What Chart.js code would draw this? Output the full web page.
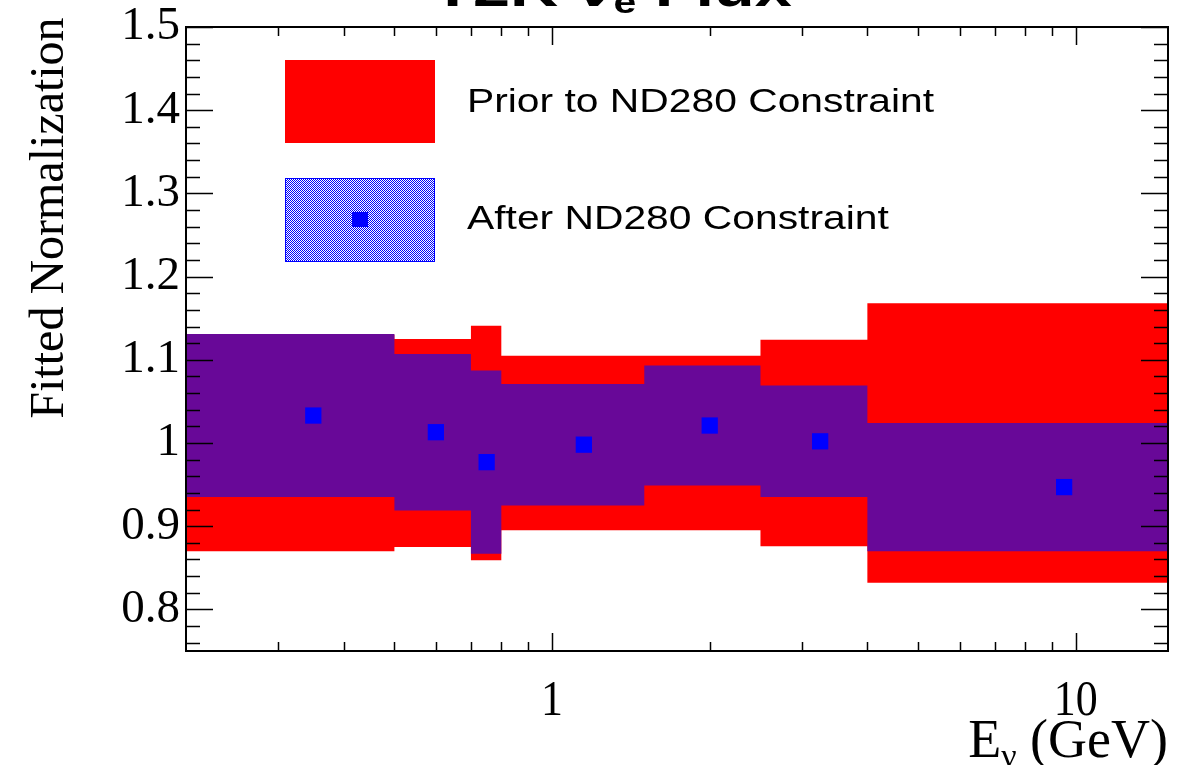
<!DOCTYPE html>
<html>
<head>
<meta charset="utf-8">
<script src="https://cdn.jsdelivr.net/npm/chart.js@4.4.0/dist/chart.umd.min.js"></script>
<style>
  html, body { margin: 0; padding: 0; background: #fff; }
  #wrap { width: 1198px; height: 765px; }
</style>
</head>
<body>
<div id="wrap"><canvas id="myChart" width="1198" height="765"></canvas></div>
<script>
// bins in E_nu (GeV)
const binEdges   = [0.2, 0.5, 0.7, 0.8, 1.5, 2.5, 4.0, 15]
const binCenters = [0.35, 0.6, 0.75, 1.15, 2.0, 3.25, 9.5]
// prior: nominal 1 +- error
const priorErr   = [0.130, 0.125, 0.141, 0.105, 0.105, 0.124, 0.168]
// after ND280 fit
const fitted     = [1.033, 1.013, 0.977, 0.998, 1.021, 1.002, 0.947]
const fittedErr  = [0.098, 0.094, 0.110, 0.073, 0.072, 0.067, 0.077]
// axis labels
const yTicks = [0.8, 0.9, 1.0, 1.1, 1.2, 1.3, 1.4, 1.5]
const xTicks = [1, 10]

// stepped boundary: point i holds its value until the next edge
const stepLine = vals => binEdges.map((e, i) => ({ x: e, y: vals[Math.min(i, vals.length - 1)] }))

const priorUp = stepLine(priorErr.map(e => 1 + e))
const priorLo = stepLine(priorErr.map(e => 1 - e))
const fitUp = stepLine(fitted.map((v, i) => v + fittedErr[i]))
const fitLo = stepLine(fitted.map((v, i) => v - fittedErr[i]))
const points = binCenters.map((x, i) => ({ x: x, y: fitted[i] }))

const ctx = document.querySelector('#myChart').getContext('2d')

// blue checker over white for the legend box (ROOT fill style look)
const pc = document.createElement('canvas')
pc.width = 2; pc.height = 2
const p = pc.getContext('2d')
p.fillStyle = '#ffffff'
p.fillRect(0, 0, 2, 2)
p.fillStyle = '#0000ff'
p.fillRect(0, 0, 1, 1)
p.fillRect(1, 1, 1, 1)
const hatchOnWhite = ctx.createPattern(pc, 'repeat')
// blue checker over the red band reads as purple
const bandPurple = 'rgb(104, 8, 152)'

const band = (data, fill, color, order) => ({
  data: data,
  stepped: 'before',
  fill: fill,
  backgroundColor: color,
  borderColor: 'transparent',
  borderWidth: 0,
  pointRadius: 0,
  order: order
})

function txt(c, s, x, y, font, align, base, sx) {
  c.save()
  c.translate(x, y)
  c.scale(sx || 1, 1)
  c.font = font
  c.textAlign = align
  c.textBaseline = base
  c.fillText(s, 0, 0)
  c.restore()
}

const rootFrame = {
  id: 'rootFrame',
  afterDraw(chart) {
    const c = chart.ctx
    const a = chart.chartArea
    const xs = chart.scales.x
    const ys = chart.scales.y
    c.save()
    c.strokeStyle = '#000'
    c.fillStyle = '#000'
    c.lineWidth = 2
    c.strokeRect(a.left, a.top, a.right - a.left, a.bottom - a.top)

    // y ticks (both sides)
    c.lineWidth = 1.5
    c.beginPath()
    for (let k = 38; k <= 75; k++) {
      const v = k * 0.02
      const py = Math.round(ys.getPixelForValue(v)) + 0.5
      const len = k % 5 === 0 ? 27 : 14
      c.moveTo(a.left, py); c.lineTo(a.left + len, py)
      c.moveTo(a.right, py); c.lineTo(a.right - len, py)
    }
    // x ticks (log)
    for (let d = 0.1; d <= 10; d *= 10) {
      for (let m = 1; m <= 9; m++) {
        const v = d * m
        if (v <= 0.2 || v >= 15) continue
        const px = Math.round(xs.getPixelForValue(v)) + 0.5
        const len = m === 1 ? 18 : 9
        c.moveTo(px, a.bottom); c.lineTo(px, a.bottom - len)
        c.moveTo(px, a.top); c.lineTo(px, a.top + len)
      }
    }
    c.stroke()

    // tick labels
    const serif = '"Liberation Serif", "Times New Roman", serif'
    yTicks.forEach(v => {
      txt(c, String(v), 180, ys.getPixelForValue(v), '47px ' + serif, 'right', 'middle')
    })
    xTicks.forEach(v => {
      txt(c, String(v), xs.getPixelForValue(v), 715, '51px ' + serif, 'center', 'alphabetic', 0.86)
    })

    // axis titles
    c.save()
    c.translate(63, 218)
    c.rotate(-Math.PI / 2)
    c.font = '48px ' + serif
    c.textAlign = 'center'
    c.textBaseline = 'alphabetic'
    c.fillText('Fitted Normalization', 0, 0)
    c.restore()

    c.font = '54px ' + serif
    const wTail = c.measureText(' (GeV)').width
    const wE = c.measureText('E').width
    c.font = '34px ' + serif
    const wNu = c.measureText('ν').width
    const x0 = a.right - wTail - wNu - wE
    txt(c, 'E', x0, 757, '54px ' + serif, 'left', 'alphabetic')
    txt(c, 'ν', x0 + wE, 767, '34px ' + serif, 'left', 'alphabetic')
    txt(c, ' (GeV)', x0 + wE + wNu, 757, '54px ' + serif, 'left', 'alphabetic')

    // title, clipped by the top of the canvas
    const sans = '"Liberation Sans", Arial, sans-serif'
    c.font = 'bold 52px ' + sans
    const w1 = c.measureText('T2K ν').width
    const w3 = c.measureText(' Flux').width
    c.font = 'bold 32px ' + sans
    const w2 = c.measureText('e').width
    const sx = 1.28
    let tx = 612 - (w1 + w2 + w3) * sx / 2
    txt(c, 'T2K ν', tx, 6, 'bold 52px ' + sans, 'left', 'alphabetic', sx)
    tx += w1 * sx
    txt(c, 'e', tx, 13, 'bold 32px ' + sans, 'left', 'alphabetic', sx)
    tx += w2 * sx
    txt(c, ' Flux', tx, 6, 'bold 52px ' + sans, 'left', 'alphabetic', sx)

    // legend
    c.fillStyle = '#ff0000'
    c.fillRect(285, 60, 150, 83)
    c.fillStyle = hatchOnWhite
    c.fillRect(285, 178, 150, 84)
    c.strokeStyle = '#0000ff'
    c.lineWidth = 1
    c.strokeRect(285.5, 178.5, 149, 83)
    c.fillStyle = '#0000ff'
    c.fillRect(352, 212, 16, 15)
    c.fillStyle = '#000'
    txt(c, 'Prior to ND280 Constraint', 467, 103, '34px ' + sans, 'left', 'middle', 1.2)
    txt(c, 'After ND280 Constraint', 467, 220, '34px ' + sans, 'left', 'middle', 1.2)
    c.restore()
  }
}

const myChart = new Chart(ctx, {
  type: 'line',
  data: {
    datasets: [
      {
        data: points,
        showLine: false,
        pointStyle: 'rect',
        pointRadius: 11.5,
        pointBorderWidth: 0,
        pointBackgroundColor: '#0000ff',
        borderColor: 'transparent',
        order: 0
      },
      band(fitUp, false, bandPurple, 1),
      band(fitLo, '-1', bandPurple, 1),
      band(priorUp, false, '#ff0000', 2),
      band(priorLo, '-1', '#ff0000', 2)
    ]
  },
  options: {
    responsive: false,
    animation: false,
    devicePixelRatio: 1,
    layout: { padding: { left: 186, right: 30, top: 27, bottom: 114 } },
    plugins: { legend: { display: false }, tooltip: { enabled: false } },
    scales: {
      x: { type: 'logarithmic', min: 0.2, max: 15, display: false },
      y: { type: 'linear', min: 0.75, max: 1.5, display: false }
    }
  },
  plugins: [rootFrame]
})
</script>
</body>
</html>
